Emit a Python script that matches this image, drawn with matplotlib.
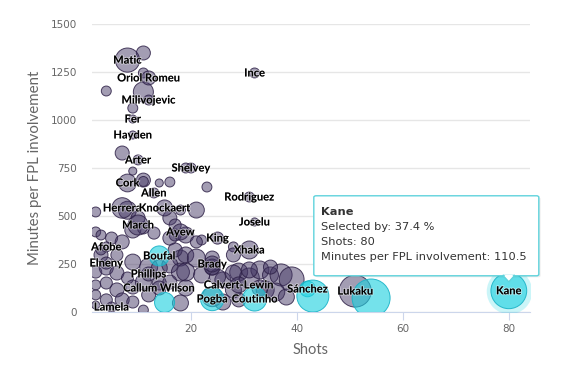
import numpy as np
import matplotlib
matplotlib.use("Agg")
import matplotlib.pyplot as plt
from matplotlib import patheffects
from matplotlib.patches import FancyBboxPatch, Polygon

# grey series: name ('' = no label), shots, minutes per involvement, selected by %
grey_names = ["Matic", "Ince", "Oriol Romeu", "Milivojevic", "Fer", "Hayden", "Arter",
              "Shelvey", "Cork", "Allen", "Rodriguez", "Herrera", "Knockaert", "Joselu",
              "March", "Ayew", "King", "Afobe", "Xhaka", "Elneny", "Brady", "Phillips",
              "Callum Wilson", "Calvert-Lewin", "Lamela", "Lukaku"]
grey_shots = [8, 32, 12, 12, 9, 9, 10, 20, 8, 13, 31, 7, 15, 32,
              10, 18, 25, 4, 31, 4, 24, 12, 14, 29, 5, 51]
grey_mins = [1312, 1245, 1219, 1104, 1005, 922, 792, 750, 672, 620, 599, 542, 542, 469,
             453, 417, 385, 339, 323, 255, 250, 198, 125, 141, 26, 109]
grey_sel = [15, 1.3, 3.7, 1.3, 0.6, 0.6, 1.3, 1.3, 7, 1.3, 1.3, 10, 5.3, 0.6,
            9.5, 5.3, 2.4, 1.3, 7.2, 2.4, 5.3, 3.7, 3.7, 5.3, 1.3, 29]

other_shots = [11, 11, 4, 11, 9, 7, 9, 11, 11, 14, 16, 19, 23, 2, 8, 10, 16, 18, 21,
               17, 2, 3, 5, 7, 9, 11, 13, 16, 17, 22, 19, 21, 28, 18, 17, 3, 6, 3,
               9, 12, 14, 16, 18, 19, 21, 24, 28, 19, 22, 24, 26, 29, 31, 33, 35, 37,
               39, 2, 4, 6, 8, 2, 4, 6, 9, 11, 14, 16, 19, 2, 4, 7, 9, 12, 11, 2, 18,
               24, 26, 29, 28, 34, 36, 38, 33, 25, 28, 24, 35, 31]
other_mins = [1349, 1245, 1151, 1146, 1062, 828, 734, 687, 680, 672, 677, 750, 651, 521,
              530, 490, 490, 531, 531, 453, 417, 401, 385, 365, 427, 438, 411, 385, 401,
              375, 401, 365, 339, 281, 323, 297, 297, 323, 260, 234, 229, 245, 208, 297,
              281, 281, 297, 208, 193, 229, 167, 208, 177, 219, 193, 193, 170, 208, 229,
              203, 177, 141, 151, 115, 130, 156, 151, 156, 125, 89, 63, 63, 52, 89, 10,
              36, 47, 80, 52, 63, 115, 115, 104, 78, 125, 182, 203, 234, 234, 219]
other_sel = [3.7, 1.3, 1.3, 9.5, 1.3, 3.7, 0.6, 3.7, 1.3, 0.6, 1.3, 1.3, 1.3, 1.3,
             7.2, 3.7, 3.7, 1.3, 5.3, 2.4, 1.3, 1.3, 2.4, 3.7, 5.3, 2.4, 2.4, 3.7, 2.4,
             1.3, 5.3, 2.4, 1.3, 5.3, 3.7, 3.7, 2.4, 1.3, 5.3, 7.2, 5.3, 5.3, 7.2, 5.3,
             7.2, 3.7, 3.7, 7.2, 5.3, 3.7, 5.3, 7.2, 9.5, 7.2, 5.3, 12, 16, 2.4, 3.7,
             3.7, 2.4, 1.3, 2.4, 3.7, 3.7, 5.3, 3.7, 3.7, 5.3, 1.3, 2.4, 3.7, 2.4, 3.7,
             1.3, 0.6, 5.3, 9.5, 5.3, 3.7, 5.3, 7.2, 7.2, 5.3, 5.3, 5.3, 5.3, 5.3, 3.7,
             5.3]

# cyan series
cyan_names = ["Boufal", "", "Pogba", "Coutinho", "Sánchez", "", "", "Kane"]
cyan_shots = [14, 15, 24, 32, 42, 43, 54, 80]
cyan_mins = [292, 50, 68, 68, 120, 83, 73, 110.5]
cyan_sel = [9.5, 9.5, 14, 15, 5, 29, 42.7, 37.4]


def bubble_size(sel):
    d_px = 5.2 * np.sqrt(np.array(sel)) + 4
    return (d_px * 0.72) ** 2


fig = plt.figure(figsize=(5.79, 3.77), dpi=100)
ax = fig.add_axes([92 / 579, 1 - 312 / 377, 438 / 579, 288 / 377])

grey_face = (0.25, 0.2, 0.38, 0.48)
grey_edge = (0.18, 0.13, 0.28, 0.85)
cyan_face = (0.12, 0.82, 0.88, 0.62)
cyan_edge = (0.1, 0.7, 0.78, 0.9)

ax.scatter(other_shots, other_mins, s=bubble_size(other_sel), color=grey_face,
           edgecolors=grey_edge, linewidths=0.7, zorder=3)
ax.scatter(grey_shots, grey_mins, s=bubble_size(grey_sel), color=grey_face,
           edgecolors=grey_edge, linewidths=0.7, zorder=3)

# halo around hovered point (Kane)
ax.scatter(cyan_shots[-1:], cyan_mins[-1:], s=(np.sqrt(bubble_size(cyan_sel[-1:])) + 7) ** 2,
           color=(0.2, 0.85, 0.9, 0.25), linewidths=0, zorder=4)
ax.scatter(cyan_shots, cyan_mins, s=bubble_size(cyan_sel), color=cyan_face,
           edgecolors=cyan_edge, linewidths=0.7, zorder=4)

outline = [patheffects.withStroke(linewidth=1.3, foreground=(1, 1, 1, 0.5))]
for names, xs, ys in [(grey_names, grey_shots, grey_mins), (cyan_names, cyan_shots, cyan_mins)]:
    for n, x, y in zip(names, xs, ys):
        if n:
            ax.text(x, y, n, ha="center", va="center", fontsize=8, fontweight="bold",
                    family=["Lato", "DejaVu Sans"], color="black", zorder=6,
                    path_effects=outline)

ax.set_xlim(1.3, 84)
ax.set_ylim(0, 1500)
ax.set_xticks([20, 40, 60, 80])
ax.set_yticks([0, 250, 500, 750, 1000, 1250, 1500])
ax.grid(axis="y", color="#e6e6e6", linewidth=1)
ax.set_axisbelow(True)
for side in ["top", "right", "left"]:
    ax.spines[side].set_visible(False)
ax.spines["bottom"].set_color("#ccd6eb")
ax.tick_params(axis="y", length=0, pad=11, labelsize=7.5, labelcolor="#666666")
ax.tick_params(axis="x", length=6, color="#ccd6eb", pad=3, labelsize=7.5, labelcolor="#666666")
ax.set_xlabel("Shots", fontsize=10.5, color="#666666", family=["Lato", "DejaVu Sans"], labelpad=6)
ax.set_ylabel("Minutes per FPL involvement", fontsize=10.8, color="#666666",
              family=["Lato", "DejaVu Sans"], labelpad=6)

# tooltip for Kane
kx, ky = ax.transData.transform((cyan_shots[-1], cyan_mins[-1]))
to_fig = fig.transFigure.inverted()


def fpt(dx, dy):
    return to_fig.transform((kx + dx, ky + dy))


x0, y0 = fpt(-195, 15)
x1, y1 = fpt(30, 95)
shadow = FancyBboxPatch((x0 + 0.003, y0 - 0.004), x1 - x0, y1 - y0, boxstyle="round,pad=0,rounding_size=0.004",
                        transform=fig.transFigure, facecolor=(0, 0, 0, 0.08), edgecolor="none", zorder=9)
box = FancyBboxPatch((x0, y0), x1 - x0, y1 - y0, boxstyle="round,pad=0,rounding_size=0.004",
                     transform=fig.transFigure, facecolor="white", edgecolor="#5fd3dc",
                     linewidth=1, zorder=10)
fig.patches.extend([shadow, box])
tri = Polygon([fpt(-6, 15.5), fpt(6, 15.5), fpt(0, 9)], closed=True, transform=fig.transFigure,
              facecolor="white", edgecolor="#5fd3dc", linewidth=1, zorder=11)
fig.patches.append(tri)
tri_cover = Polygon([fpt(-5, 16.3), fpt(5, 16.3), fpt(0, 11)], closed=True, transform=fig.transFigure,
                    facecolor="white", edgecolor="none", zorder=12)
fig.patches.append(tri_cover)

lines = [("Kane", "bold"),
         (f"Selected by: {cyan_sel[-1]} %", "normal"),
         (f"Shots: {cyan_shots[-1]}", "normal"),
         (f"Minutes per FPL involvement: {cyan_mins[-1]}", "normal")]
for i, (txt, w) in enumerate(lines):
    tx, ty = fpt(-188, 79 - 15 * i)
    fig.text(tx, ty, txt, fontsize=8.2, fontweight=w, color="#333333", ha="left",
             va="center", family="DejaVu Sans", zorder=13)

fig.savefig("out.png", dpi=100)
